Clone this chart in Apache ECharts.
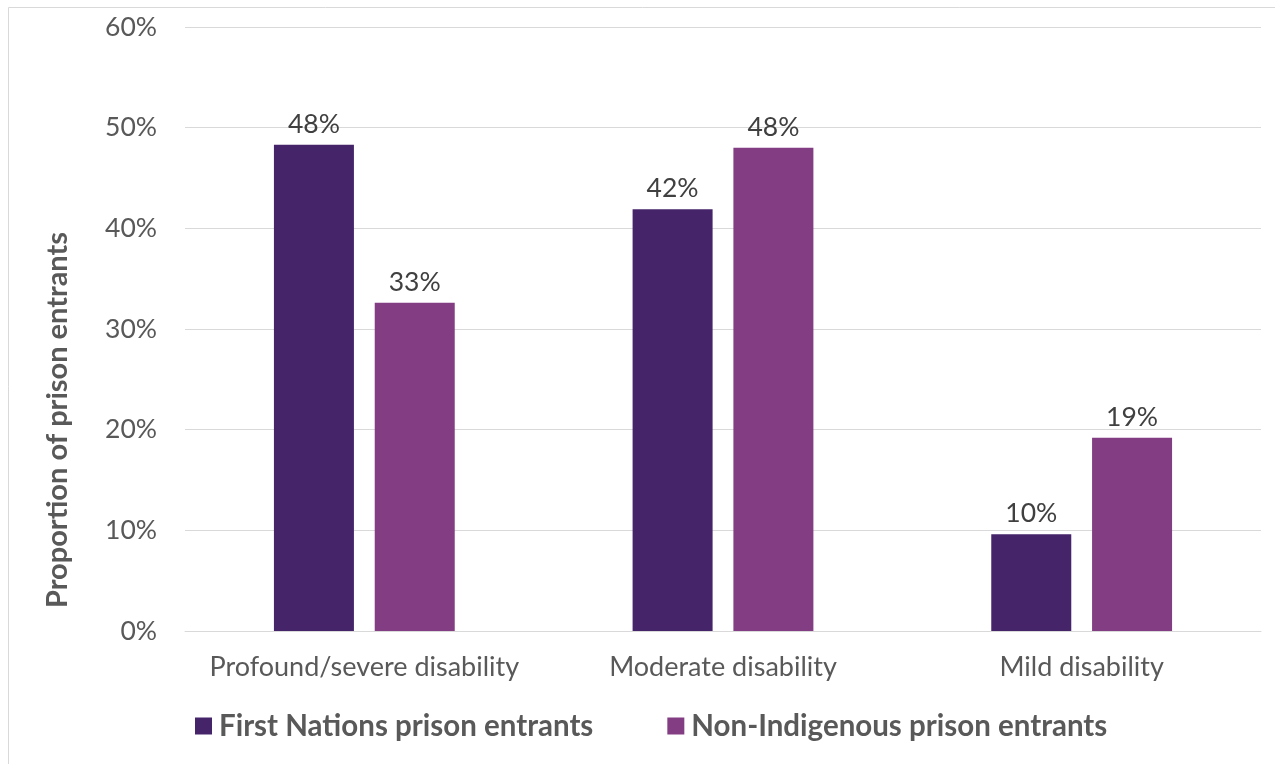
<!DOCTYPE html>
<html><head><meta charset="utf-8">
<script src="https://cdn.jsdelivr.net/npm/echarts@6/dist/echarts.min.js"></script>
<style>html,body{margin:0;padding:0;background:#fff}#c{width:1275px;height:764px}</style>
</head><body><div id="c"></div>
<script>
const categories = ['Profound/severe disability', 'Moderate disability', 'Mild disability'];
const firstNations = [48.3, 41.9, 9.6];
const nonIndigenous = [32.6, 48.0, 19.2];
const seriesNames = ['First Nations prison entrants', 'Non-Indigenous prison entrants'];
const yTicks = [0, 10, 20, 30, 40, 50, 60];

const FONT = 'Lato, "Open Sans", sans-serif';
const chart = echarts.init(document.getElementById('c'));
const lbl = {show: true, position: 'top', distance: 7, color: '#404040', fontSize: 26.5, fontFamily: FONT,
  formatter: p => Math.round(p.value) + '%'};
chart.setOption({
  animation: false,
  graphic: [
    {type: 'rect', shape: {x: 8.5, y: 7.5, width: 1300, height: 800}, style: {fill: 'none', stroke: '#d9d9d9', lineWidth: 1}},
    {type: 'text', x: 58, y: 420, rotation: Math.PI / 2, style: {text: 'Proportion of prison entrants', fill: '#595959',
      fontSize: 29, fontWeight: 'bold', fontFamily: FONT, align: 'center', verticalAlign: 'middle'}}
  ],
  grid: {left: 185, right: 14, top: 27, bottom: 133, containLabel: false},
  legend: {
    bottom: 18, left: 190, itemGap: 74, itemWidth: 17, itemHeight: 17, icon: 'rect',
    textStyle: {fontSize: 29.5, fontWeight: 'bold', color: '#595959', fontFamily: FONT, padding: [0, 0, 0, 2]},
    data: seriesNames
  },
  xAxis: {
    type: 'category', data: categories,
    axisLine: {lineStyle: {color: '#d9d9d9', width: 1}}, axisTick: {show: false},
    axisLabel: {color: '#595959', fontSize: 27, fontFamily: FONT, margin: 23, interval: 0, hideOverlap: false}
  },
  yAxis: {
    type: 'value', min: yTicks[0], max: yTicks[yTicks.length - 1], interval: 10,
    axisLabel: {color: '#595959', fontSize: 26.5, fontFamily: FONT, margin: 28, formatter: v => v + '%'},
    splitLine: {lineStyle: {color: '#d9d9d9', width: 1}},
    axisLine: {show: false}, axisTick: {show: false}
  },
  series: [
    {name: seriesNames[0], type: 'bar', data: firstNations, barWidth: 80, barGap: '26%',
      itemStyle: {color: '#45246a'}, label: lbl},
    {name: seriesNames[1], type: 'bar', data: nonIndigenous, barWidth: 80,
      itemStyle: {color: '#833d82'}, label: lbl}
  ]
});
</script></body></html>
